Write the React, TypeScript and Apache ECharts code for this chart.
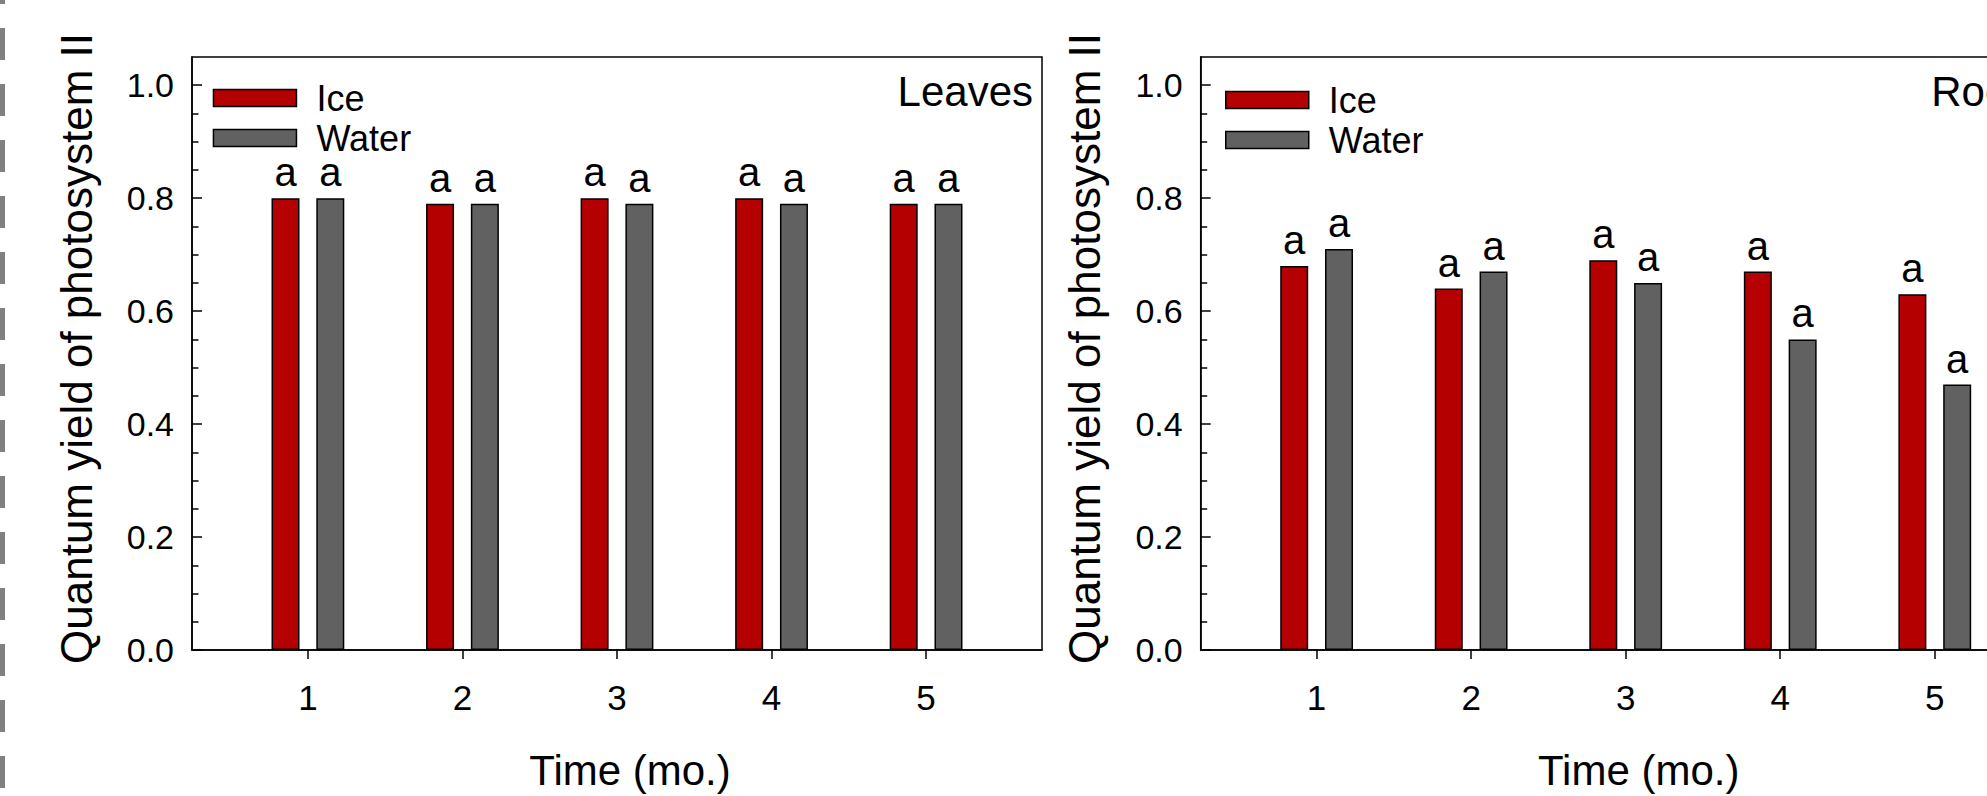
import React, { useEffect, useRef } from "react";
import * as echarts from "echarts";

const times = [1, 2, 3, 4, 5];
const leavesIce = [0.8, 0.79, 0.8, 0.8, 0.79];
const leavesWater = [0.8, 0.79, 0.79, 0.79, 0.79];
const rootsIce = [0.68, 0.64, 0.69, 0.67, 0.63];
const rootsWater = [0.71, 0.67, 0.65, 0.55, 0.47];
const leavesIceLetters = ["a", "a", "a", "a", "a"];
const leavesWaterLetters = ["a", "a", "a", "a", "a"];
const rootsIceLetters = ["a", "a", "a", "a", "a"];
const rootsWaterLetters = ["a", "a", "a", "a", "a"];
const yMajorTicks = [0, 0.2, 0.4, 0.6, 0.8, 1.0];
const yMinorTicks = [0.05, 0.1, 0.15, 0.25, 0.3, 0.35, 0.45, 0.5, 0.55, 0.65, 0.7, 0.75, 0.85, 0.9, 0.95];
const panelTitles = ["Leaves", "Roots"];
const seriesNames = ["Ice", "Water"];
const xTitle = "Time (mo.)";
const yTitle = "Quantum yield of photosystem II";

const FONT = "'Liberation Sans', Arial, sans-serif";
const ICE = "#b40000";
const WATER = "#616161";

export default function App() {
  const ref = useRef<HTMLDivElement>(null);
  useEffect(() => {
    if (!ref.current) return;
    const chart = echarts.init(ref.current, null, { renderer: "svg" });
    const grids = [
      { left: 192, top: 57, width: 850, height: 595.7 },
      { left: 1200.7, top: 57, width: 850, height: 595.7 },
    ];
    const xAxes = grids.map((_, i) => ({
      type: "value",
      gridIndex: i,
      min: 0.25,
      max: 5.75,
      splitLine: { show: false },
      axisLine: { show: true, lineStyle: { color: "#000", width: 1.5 } },
      axisTick: { show: true, inside: false, length: 9, customValues: times, lineStyle: { color: "#000", width: 1.5 } },
      axisLabel: { customValues: times, margin: 30, fontSize: 35, color: "#000", fontFamily: FONT },
      name: xTitle,
      nameLocation: "middle",
      nameGap: 99,
      nameTextStyle: { fontSize: 42, color: "#000", fontFamily: FONT, padding: [0, 0, 0, 26] },
    }));
    const yAxes: any[] = [];
    grids.forEach((_, i) => {
      yAxes.push({
        type: "value",
        gridIndex: i,
        min: 0,
        max: 1.05,
        position: "left",
        splitLine: { show: false },
        axisLine: { show: true, lineStyle: { color: "#000", width: 1.5 } },
        axisTick: { show: true, inside: true, length: 10, customValues: yMajorTicks, lineStyle: { color: "#000", width: 1.5 } },
        axisLabel: { customValues: yMajorTicks, margin: 18, fontSize: 34, color: "#000", fontFamily: FONT, formatter: (v: number) => v.toFixed(1) },
        name: yTitle,
        nameLocation: "middle",
        nameGap: 94,
        nameTextStyle: { fontSize: 44, color: "#000", fontFamily: FONT, padding: [0, 0, 0, 10] },
      });
      yAxes.push({
        type: "value",
        gridIndex: i,
        min: 0,
        max: 1.05,
        position: "left",
        offset: 0,
        splitLine: { show: false },
        axisLine: { show: false },
        axisTick: { show: true, inside: true, length: 6.5, customValues: yMinorTicks, lineStyle: { color: "#000", width: 1.5 } },
        axisLabel: { show: false },
      });
    });
    const mkSeries = (name: string, vals: number[], letters: string[], gi: number, color: string) => ({
      type: "bar",
      name,
      xAxisIndex: gi,
      yAxisIndex: gi * 2,
      barWidth: 28,
      barGap: "60%",
      data: times.map((t, k) => [t, vals[k]]),
      itemStyle: { color, borderColor: "#000", borderWidth: 1.5 },
      label: {
        show: true,
        position: "top",
        distance: 13,
        fontSize: 40,
        lineHeight: 26,
        color: "#000",
        fontFamily: FONT,
        formatter: (p: any) => letters[p.dataIndex],
      },
    });
    const legendBase = {
      orient: "vertical",
      data: seriesNames,
      itemWidth: 83,
      itemHeight: 17,
      itemGap: 4,
      icon: "rect",
      itemStyle: { borderColor: "#000", borderWidth: 1.5 },
      textStyle: { fontSize: 36, color: "#000", fontFamily: FONT, padding: [0, 0, 0, 15] },
      selectedMode: false,
    };
    chart.setOption({
      animation: false,
      backgroundColor: "#fff",
      grid: grids.map((g) => ({ ...g, show: true, borderColor: "#000", borderWidth: 1.5, backgroundColor: "transparent" })),
      xAxis: xAxes,
      yAxis: yAxes,
      legend: [
        { ...legendBase, left: 207.7, top: 75 },
        { ...legendBase, left: 1220, top: 77 },
      ],
      series: [
        mkSeries(seriesNames[0], leavesIce, leavesIceLetters, 0, ICE),
        mkSeries(seriesNames[1], leavesWater, leavesWaterLetters, 0, WATER),
        mkSeries(seriesNames[0], rootsIce, rootsIceLetters, 1, ICE),
        mkSeries(seriesNames[1], rootsWater, rootsWaterLetters, 1, WATER),
      ],
      graphic: [
        {
          type: "line",
          shape: { x1: 2.5, y1: -28, x2: 2.5, y2: 800 },
          style: { stroke: "#808080", lineWidth: 5, lineDash: [32, 24] },
          silent: true,
        },
        {
          type: "text",
          x: 1033,
          y: 91,
          style: { text: panelTitles[0], fontSize: 42, fill: "#000", fontFamily: FONT, align: "right", verticalAlign: "middle" },
        },
        {
          type: "text",
          x: 2041,
          y: 91,
          style: { text: panelTitles[1], fontSize: 42, fill: "#000", fontFamily: FONT, align: "right", verticalAlign: "middle" },
        },
      ],
    });
    return () => chart.dispose();
  }, []);
  return <div ref={ref} style={{ position: "fixed", left: 0, top: 0, width: 2100, height: 796 }} />;
}
